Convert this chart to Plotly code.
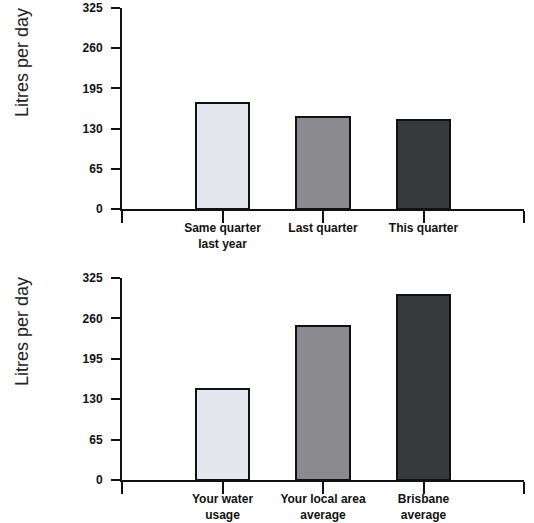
import plotly.graph_objects as go

# Data
top_categories = ["Same quarter<br>last year", "Last quarter", "This quarter"]
top_values = [171, 149, 144]
bottom_categories = ["Your water<br>usage", "Your local area<br>average", "Brisbane<br>average"]
bottom_values = [147, 248, 298]
bar_colors = ["#e6e6ee", "#8b8b8f", "#37393b"]
y_ticks = [0, 65, 130, 195, 260, 325]
y_title = "Litres per day"

FONT = "Liberation Sans, Arial, sans-serif"
x_positions = [1, 2, 3]

W, H = 534, 523

def px_x(p):
    return p / W

def px_y(p):
    return 1 - p / H

fig = go.Figure()
fig.add_trace(go.Bar(x=x_positions, y=top_values, width=0.535,
                     marker=dict(color=bar_colors, line=dict(color="#111", width=2)),
                     xaxis="x", yaxis="y", showlegend=False))
fig.add_trace(go.Bar(x=x_positions, y=bottom_values, width=0.535,
                     marker=dict(color=bar_colors, line=dict(color="#111", width=2)),
                     xaxis="x2", yaxis="y2", showlegend=False))

xdom = [px_x(122), px_x(524)]

def xaxis_cfg(cats, anchor):
    return dict(domain=xdom, range=[0, 4], anchor=anchor, automargin=False,
                tickvals=[0, 1, 2, 3, 4], ticktext=[""] + cats + [""],
                showline=True, linecolor="#111", linewidth=2,
                ticks="outside", ticklen=12, tickwidth=2, tickcolor="#111",
                ticklabelstandoff=-5,
                showgrid=False, zeroline=False,
                tickfont=dict(family=FONT, size=12, color="#111", weight="bold"))

def yaxis_cfg(dom, anchor):
    return dict(domain=dom, range=[0, 325], anchor=anchor, automargin=False,
                tickvals=y_ticks, showline=True, linecolor="#111", linewidth=2,
                ticks="outside", ticklen=9, tickwidth=1.5, tickcolor="#111",
                ticklabelstandoff=6,
                showgrid=False, zeroline=False,
                tickfont=dict(family=FONT, size=12, color="#111", weight="bold"))

fig.update_layout(
    width=W, height=H,
    margin=dict(l=0, r=0, t=0, b=0),
    paper_bgcolor="white", plot_bgcolor="white",
    bargap=0,
    xaxis=xaxis_cfg(top_categories, "y"),
    yaxis=yaxis_cfg([px_y(209), px_y(8)], "x"),
    xaxis2=xaxis_cfg(bottom_categories, "y2"),
    yaxis2=yaxis_cfg([px_y(480), px_y(278)], "x2"),
    annotations=[
        dict(text=y_title, textangle=-90, x=px_x(22), y=px_y(63), xref="paper", yref="paper",
             showarrow=False, xanchor="center", yanchor="middle",
             font=dict(family=FONT, size=18, color="#222")),
        dict(text=y_title, textangle=-90, x=px_x(22), y=px_y(332), xref="paper", yref="paper",
             showarrow=False, xanchor="center", yanchor="middle",
             font=dict(family=FONT, size=18, color="#222")),
    ],
)

# Remove the default 8px page margin so the figure fills the window exactly.
fig.write_html("out.html", config={"displayModeBar": False},
               post_script="document.body.style.margin='0';")
